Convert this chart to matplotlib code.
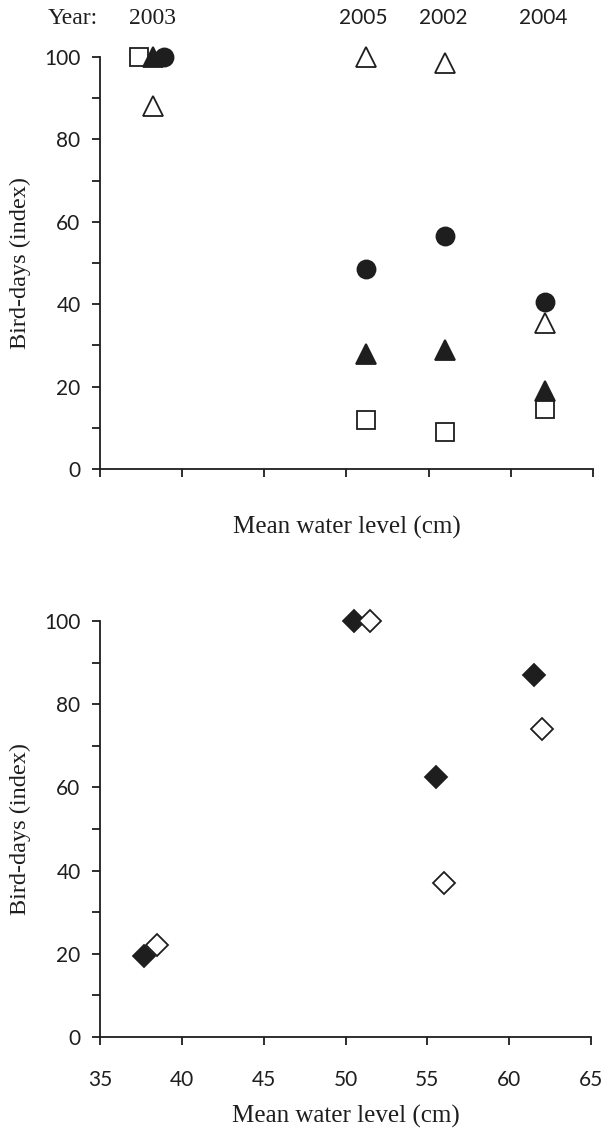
import matplotlib
matplotlib.use("Agg")
import matplotlib.pyplot as plt
from matplotlib.ticker import MultipleLocator

# ---- data ----
years = ["2003", "2005", "2002", "2004"]
year_x = [38.2, 51.0, 55.9, 62.0]

# top panel series
sq_x = [37.4, 51.2, 56.0, 62.1]
sq_y = [100, 12, 9, 14.5]
otri_x = [38.2, 51.2, 56.0, 62.1]
otri_y = [88, 100, 98.5, 35.5]
ftri_x = [38.2, 51.2, 56.0, 62.1]
ftri_y = [100, 28, 29, 19]
circ_x = [38.9, 51.2, 56.0, 62.1]
circ_y = [100, 48.5, 56.5, 40.5]

# bottom panel series
fdia_x = [37.7, 50.5, 55.5, 61.5]
fdia_y = [19.5, 100, 62.5, 87]
odia_x = [38.5, 51.5, 56.0, 62.0]
odia_y = [22, 100, 37, 74]

xticks = [35, 40, 45, 50, 55, 60, 65]
yticks = [0, 20, 40, 60, 80, 100]

SERIF = "Liberation Serif"
SANS = "Lato"
K = "#1e1e1e"

fig = plt.figure(figsize=(6.01, 11.31), dpi=100)
W, H = 601, 1131

def ax_at(l, r, b, t):
    return fig.add_axes([l / W, 1 - b / H, (r - l) / W, (b - t) / H])

ax1 = ax_at(100, 593, 469, 57)
ax2 = ax_at(100, 591, 1037, 621)

for ax in (ax1, ax2):
    ax.set_xlim(35, 65)
    ax.set_ylim(0, 100)
    for s in ("top", "right"):
        ax.spines[s].set_visible(False)
    for s in ("left", "bottom"):
        ax.spines[s].set_linewidth(1.3)
        ax.spines[s].set_color(K)
    ax.set_xticks(xticks)
    ax.set_yticks(yticks)
    ax.yaxis.set_minor_locator(MultipleLocator(10))
    ax.tick_params(axis="both", which="both", direction="out", length=6,
                   width=1.3, color=K, labelcolor=K, labelsize=15)
    ax.tick_params(axis="y", pad=8)
    for lab in ax.get_yticklabels() + ax.get_xticklabels():
        lab.set_fontfamily(SANS)
    ax.set_ylabel("Bird-days (index)", fontfamily=SERIF, fontsize=17.5, color=K)
    ax.yaxis.label.set_va("center")
    ax.set_xlabel("Mean water level (cm)", fontfamily=SERIF, fontsize=18, color=K)
    ax.xaxis.label.set_va("center")

ax1.tick_params(axis="x", labelbottom=False)
ax2.tick_params(axis="x", pad=18)

ax1.yaxis.set_label_coords((20 - 100) / 493, 0.5)
ax2.yaxis.set_label_coords((20 - 100) / 491, 0.5)
ax1.xaxis.set_label_coords(0.5, (469 - 527) / (469 - 57))
ax2.xaxis.set_label_coords(0.5, (1037 - 1116) / (1037 - 621))

mk = dict(linestyle="none", clip_on=False, markeredgecolor=K, markeredgewidth=1.3)
ax1.plot(sq_x, sq_y, marker="s", markersize=13, markerfacecolor="white", **mk)
ax1.plot(otri_x, otri_y, marker="^", markersize=14, markerfacecolor="white", **mk)
ax1.plot(ftri_x, ftri_y, marker="^", markersize=14, markerfacecolor=K, **mk)
ax1.plot(circ_x, circ_y, marker="o", markersize=13, markerfacecolor=K, **mk)

ax2.plot(fdia_x, fdia_y, marker="D", markersize=11.5, markerfacecolor=K, **mk)
ax2.plot(odia_x, odia_y, marker="D", markersize=11.5, markerfacecolor="white", **mk)

# year labels at the top
trans = ax1.get_xaxis_transform()
ytop = 1 + (57 - 18) / (469 - 57)
ax1.text((73 - 100) / 493, ytop, "Year:", transform=ax1.transAxes, ha="center",
         va="center", fontfamily=SERIF, fontsize=17, color=K, clip_on=False)
for i, (yx, yl) in enumerate(zip(year_x, years)):
    ax1.text(yx, ytop, yl, transform=trans, ha="center", va="center",
             fontfamily=SERIF if i == 0 else SANS,
             fontsize=17 if i == 0 else 15, color=K, clip_on=False)

fig.savefig("out.png", dpi=100)
